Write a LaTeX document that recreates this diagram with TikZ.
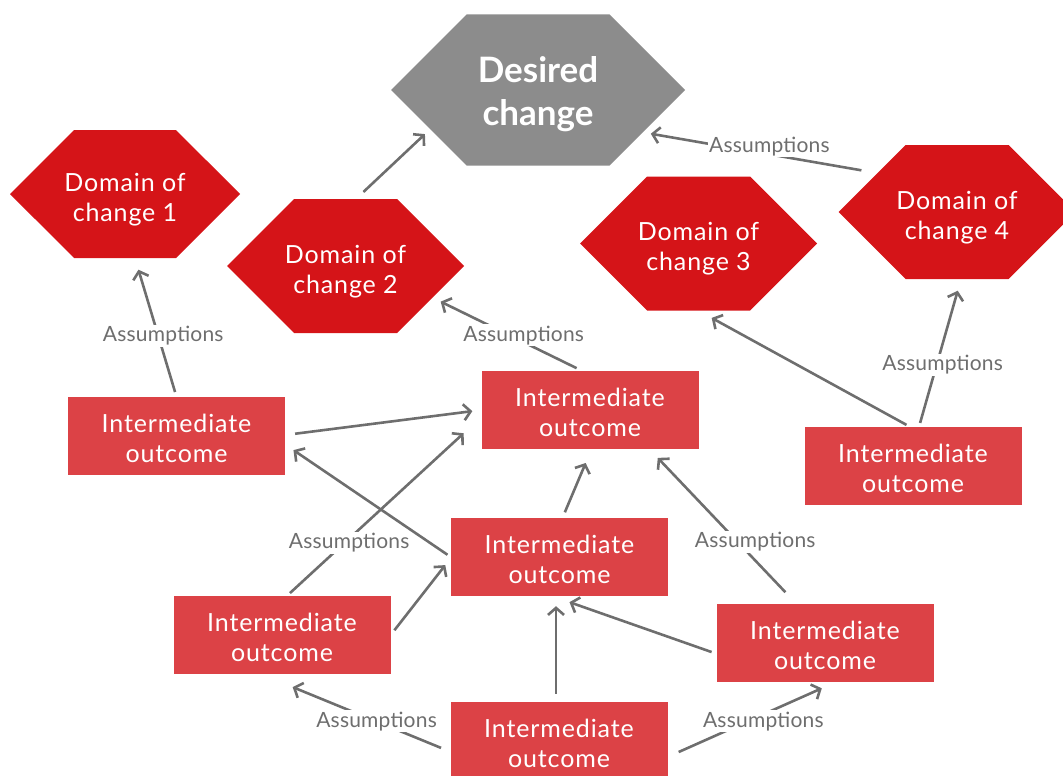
\documentclass[tikz,border=0pt]{standalone}
\usepackage{fontspec}
\setmainfont{Lato}
\newfontfamily\boxfont[LetterSpace=3.5]{Lato}
\newfontfamily\notefont[LetterSpace=1]{Lato}
\usepackage{tikz}
\usetikzlibrary{arrows.meta,shapes.symbols,calc}

\definecolor{goalgray}{HTML}{8C8C8C}
\definecolor{domainred}{HTML}{D51418}
\definecolor{outred}{HTML}{DC4246}
\definecolor{linegray}{HTML}{6E6E6E}

% invisible struts that drop the box text a little
\newcommand{\goallift}{\rule{0pt}{34pt}}
\newcommand{\hexlift}{\rule{0pt}{29pt}}
\newcommand{\boxlift}{\rule{0pt}{23pt}}

\tikzset{
	hexa/.style={signal,signal to=west and east,signal pointer angle=90,
		text=white,align=center,inner sep=0pt,
		font=\boxfont\fontsize{25}{30}\selectfont},
	goal/.style={hexa,fill=goalgray,minimum width=294pt,minimum height=151pt,
		font=\fontsize{35}{43}\selectfont\bfseries},
	domainhex/.style={hexa,fill=domainred,minimum width=237pt,minimum height=134pt,
		inner xsep=-10pt},
	outcome/.style={rectangle,fill=outred,text=white,align=center,
		minimum width=217pt,minimum height=78pt,inner sep=0pt,
		font=\boxfont\fontsize{25}{30}\selectfont},
	link/.style={draw=linegray,line width=2.6pt,
		-{Straight Barb[length=7pt,width=16pt]}},
	assume/.style={fill=white,text=linegray,inner sep=1.5pt,
		font=\notefont\fontsize{21}{24}\selectfont}
}

\begin{document}
\begin{tikzpicture}[x=1pt,y=-1pt]
	\useasboundingbox (0,0) rectangle (1063,776);
%	\draw[help lines,step=50] (0,0) grid (1063,776);
	\path (538,90) node(desired) [goal] {\goallift Desired\\change};
	\path (125,194) node(dom1) [domainhex,minimum width=230pt,minimum height=128pt] {\hexlift Domain of\\change 1};
	\path (345.5,266) node(dom2) [domainhex] {\hexlift Domain of\\change 2};
	\path (698.5,243.5) node(dom3) [domainhex] {\hexlift Domain of\\change 3};
	\path (957,212) node(dom4) [domainhex] {\hexlift Domain of\\change 4};

	\path (176.5,436) node(out1) [outcome] {\boxlift Intermediate\\outcome};
	\path (590,410) node(out2) [outcome] {\boxlift Intermediate\\outcome};
	\path (913,466) node(out3) [outcome] {\boxlift Intermediate\\outcome};
	\path (559.5,557) node(out4) [outcome] {\boxlift Intermediate\\outcome};
	\path (282,635) node(out5) [outcome] {\boxlift Intermediate\\outcome};
	\path (825,643) node(out6) [outcome] {\boxlift Intermediate\\outcome};
	\path (559,741) node(out7) [outcome] {\boxlift Intermediate\\outcome};

	% links up to the domains and the desired change
	\draw[link,shorten <=5pt,shorten >=12pt] (out1.north) -- ($(dom1.south)+(10,0)$)
		node[assume,pos=0.44,xshift=5pt] {Assumptions};
	\draw[link,shorten <=10pt,shorten >=7pt] (dom2.81) -- (desired.200);
	\draw[link,shorten <=16pt,shorten >=8pt] (dom4.154) -- (desired.338)
		node[assume,pos=0.46,yshift=8pt] {Assumptions};
	\draw[link,shorten <=6pt,shorten >=9pt] ($(out2.north)+(-8,0)$) -- (dom2.-20)
		node[assume,pos=0.39,yshift=7pt] {Assumptions};
	\draw[link,shorten <=4pt,shorten >=15pt] ($(out3.north)+(-3,0)$) -- (dom3.south);
	\draw[link,shorten <=4pt,shorten >=12pt] ($(out3.north)+(6,0)$) -- ($(dom4.south)+(4,0)$)
		node[assume,pos=0.42,xshift=6pt] {Assumptions};

	% links between the outcomes
	\draw[link,shorten <=10pt,shorten >=9pt] ($(out1.east)+(0,-1)$) -- (out2.west);
	\draw[link,shorten <=4pt,shorten >=10pt] (out4.west) -- ($(out1.east)+(0,8.5)$);
	\draw[link,shorten <=4pt,shorten >=24pt] ($(out5.north)+(5,0)$) -- ($(out2.west)+(0,7)$)
		node[assume,pos=0.32,yshift=-4pt] {Assumptions};
	\draw[link,shorten <=6pt,shorten >=9pt] (out5.east) -- ($(out4.west)+(0,1)$);
	\draw[link,shorten <=6pt,shorten >=15pt] ($(out4.north)+(3,0)$) -- ($(out2.south)+(1.5,0)$);
	\draw[link,shorten <=16pt,shorten >=12pt] ($(out6.north)+(-28.6,0)$) -- ($(out2.south)+(59.5,0)$)
		node[assume,pos=0.28,yshift=19pt] {Assumptions};
	\draw[link,shorten <=5pt,shorten >=18pt] ($(out6.west)+(0,10.7)$) -- ($(out4.south)+(-7,0)$);
	\draw[link,shorten <=8pt,shorten >=10pt] ($(out7.north)+(-3,0)$) -- ($(out4.south)+(-3.5,0)$);
	\draw[link,shorten <=10pt,shorten >=34pt] ($(out7.west)+(0,10.7)$) -- ($(out5.south)+(-20.8,0)$)
		node[assume,pos=0.39] {Assumptions};
	\draw[link,shorten <=12pt,shorten >=15pt] ($(out7.east)+(0,15.9)$) -- ($(out6.south)+(10.5,0)$)
		node[assume,pos=0.57,yshift=-7pt] {Assumptions};
\end{tikzpicture}
\end{document}
